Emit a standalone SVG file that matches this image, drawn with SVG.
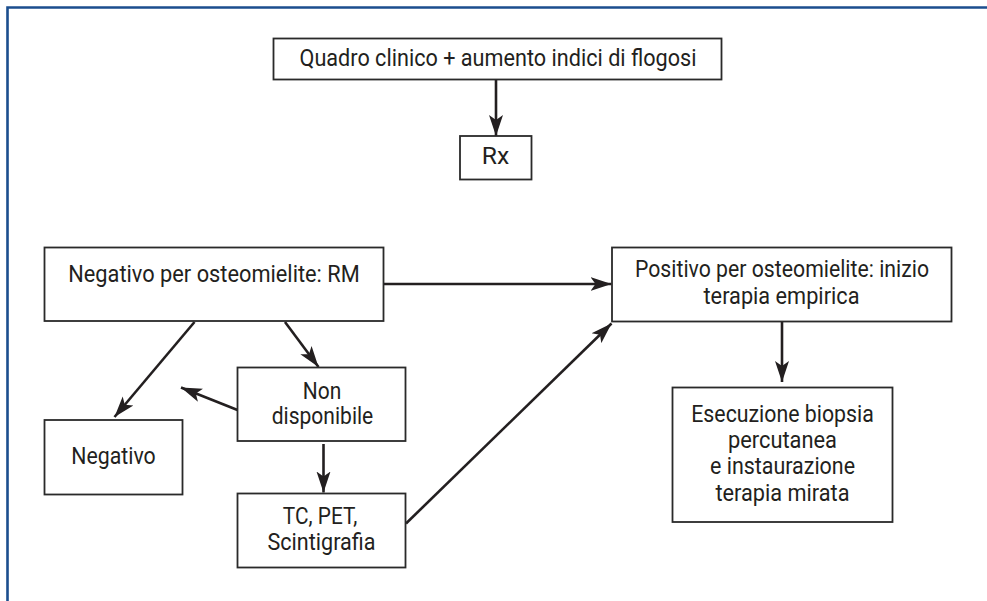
<svg xmlns="http://www.w3.org/2000/svg" width="987" height="601" viewBox="0 0 987 601">
<style>
.box{fill:#fff;stroke:#2a2a2a;stroke-width:1.8}
.t{font-family:"Liberation Sans Narrow","Roboto","Liberation Sans",sans-serif;font-size:23px;fill:#231f20;text-anchor:middle}
.c{stroke:#231f20;stroke-width:2.6;fill:none;marker-end:url(#ah)}
.frame{stroke:#1b4e8e;stroke-width:2.6;fill:none}
</style>
<defs>
<marker id="ah" markerUnits="userSpaceOnUse" markerWidth="22" markerHeight="16" viewBox="0 0 22 16" refX="21" refY="8" orient="auto">
<path d="M0,1 L21,8 L0,15 L5,8 Z" fill="#231f20"/>
</marker>
</defs>
<rect width="987" height="601" fill="#fff"/>
<path class="frame" d="M7.5,601 L7.5,7.5 L987,7.5"/>
<g id="connectors">
<line class="c" x1="496" y1="80" x2="496" y2="136"/>
<line class="c" x1="384" y1="284" x2="611.5" y2="284"/>
<line class="c" x1="194.5" y1="322" x2="114.5" y2="417"/>
<line class="c" x1="285" y1="322" x2="318.5" y2="367"/>
<line class="c" x1="237.5" y1="410" x2="181" y2="387.5"/>
<line class="c" x1="323.5" y1="444" x2="323.5" y2="492.5"/>
<line class="c" x1="406" y1="523.5" x2="611.5" y2="323.5"/>
<line class="c" x1="782" y1="322" x2="782" y2="382"/>
</g>
<g id="n-quadro">
<rect class="box" x="273.5" y="38.5" width="448" height="41"/>
<text class="t" x="498" y="65.5" textLength="397" lengthAdjust="spacingAndGlyphs">Quadro clinico + aumento indici di flogosi</text>
</g>
<g id="n-rx">
<rect class="box" x="460" y="136" width="71.5" height="43.5"/>
<text class="t" x="495.5" y="163.5" textLength="27.5" lengthAdjust="spacingAndGlyphs">Rx</text>
</g>
<g id="n-negrm">
<rect class="box" x="44.5" y="247.5" width="339" height="73.5"/>
<text class="t" x="214" y="281.5" textLength="291.5" lengthAdjust="spacingAndGlyphs">Negativo per osteomielite: RM</text>
</g>
<g id="n-pos">
<rect class="box" x="612" y="247.5" width="339.5" height="74"/>
<text class="t" x="782" y="277" textLength="294" lengthAdjust="spacingAndGlyphs">Positivo per osteomielite: inizio</text>
<text class="t" x="781.5" y="303.5" textLength="156" lengthAdjust="spacingAndGlyphs">terapia empirica</text>
</g>
<g id="n-nondisp">
<rect class="box" x="237.5" y="367.5" width="168" height="73.5"/>
<text class="t" x="322" y="398.5" textLength="38.5" lengthAdjust="spacingAndGlyphs">Non</text>
<text class="t" x="322.5" y="423.5" textLength="101.5" lengthAdjust="spacingAndGlyphs">disponibile</text>
</g>
<g id="n-neg">
<rect class="box" x="44.5" y="420" width="138" height="74.5"/>
<text class="t" x="113.5" y="464" textLength="84.5" lengthAdjust="spacingAndGlyphs">Negativo</text>
</g>
<g id="n-tc">
<rect class="box" x="237.5" y="493.5" width="168" height="74"/>
<text class="t" x="320" y="524" textLength="74.5" lengthAdjust="spacingAndGlyphs">TC, PET,</text>
<text class="t" x="321.5" y="549.5" textLength="108" lengthAdjust="spacingAndGlyphs">Scintigrafia</text>
</g>
<g id="n-biopsia">
<rect class="box" x="672.5" y="387.5" width="220" height="134.5"/>
<text class="t" x="782.5" y="421.5" textLength="182.5" lengthAdjust="spacingAndGlyphs">Esecuzione biopsia</text>
<text class="t" x="782.5" y="447.5" textLength="109" lengthAdjust="spacingAndGlyphs">percutanea</text>
<text class="t" x="782.5" y="474" textLength="145" lengthAdjust="spacingAndGlyphs">e instaurazione</text>
<text class="t" x="782.5" y="500.5" textLength="134" lengthAdjust="spacingAndGlyphs">terapia mirata</text>
</g>
</svg>
